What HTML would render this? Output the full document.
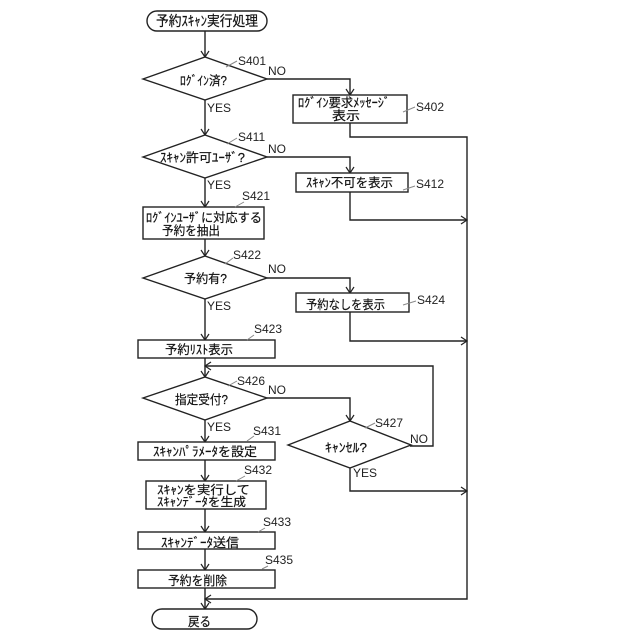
<!DOCTYPE html>
<html><head><meta charset="utf-8"><style>
html,body{margin:0;padding:0;background:#fff}
svg{display:block}
.j{font-family:"Liberation Sans","Noto Sans CJK JP",sans-serif;font-size:12.5px;fill:#111;stroke:#111;stroke-width:.2}
.l{font-family:"Liberation Sans",sans-serif;font-size:12px;fill:#222}
.s{fill:#fff;stroke:#222;stroke-width:1.4}
.c{fill:none;stroke:#222;stroke-width:1.4}
.h{fill:none;stroke:#222;stroke-width:1.2}
.q{fill:none;stroke:#888;stroke-width:1}
</style></head><body>
<svg width="640" height="640" viewBox="0 0 640 640" xmlns="http://www.w3.org/2000/svg">
<!-- connectors -->
<path class="c" d="M205 31V57M205 100V135M205 178V207M205 239V256M205 299V340M205 358V377M205 420V442M205 460V481M205 509V532M205 549V570M205 588V609"/>
<path class="c" d="M267 79H350V95M350 123V137H467V599H205M267 157H350V173M350 192V220H467M267 278H350V293M350 312V341H467M267 398H350V421M410 446H433V366H205M350 468V491H467"/>
<!-- arrowheads -->
<path class="h" d="M201 51L205 57L209 51M201 129L205 135L209 129M201 201L205 207L209 201M201 250L205 256L209 250M201 334L205 340L209 334M201 371L205 377L209 371M201 436L205 442L209 436M201 475L205 481L209 475M201 526L205 532L209 526M201 564L205 570L209 564M201 603L205 609L209 603"/>
<path class="h" d="M346 89L350 95L354 89M346 167L350 173L354 167M346 287L350 293L354 287M346 415L350 421L354 415"/>
<path class="h" d="M461 216L467 220L461 224M461 337L467 341L461 345M461 487L467 491L461 495M211 362L205 366L211 370M211 595L205 599L211 603"/>
<!-- shapes -->
<rect class="s" x="147" y="11" width="120" height="20" rx="10"/>
<polygon class="s" points="143,79 205,57 267,79 205,100"/>
<rect class="s" x="293" y="95" width="114" height="28"/>
<polygon class="s" points="143,157 205,135 267,157 205,178"/>
<rect class="s" x="296" y="173" width="112" height="19"/>
<rect class="s" x="143" y="207" width="121" height="32"/>
<polygon class="s" points="143,278 205,256 267,278 205,299"/>
<rect class="s" x="296" y="293" width="113" height="19"/>
<rect class="s" x="138" y="340" width="137" height="18"/>
<polygon class="s" points="143,398 205,377 267,398 205,420"/>
<polygon class="s" points="288,445 350,421 411,445 350,468"/>
<rect class="s" x="138" y="442" width="137" height="18"/>
<rect class="s" x="146" y="481" width="120" height="28"/>
<rect class="s" x="138" y="532" width="137" height="17"/>
<rect class="s" x="138" y="570" width="137" height="18"/>
<rect class="s" x="152" y="609" width="105" height="20" rx="10"/>
<!-- leaders -->
<path class="q" d="M226 67L237 61M403 112L415 107M227 144L237 138M403 190L415 186M235 207L244 202M225 264L233 258M403 305L416 301M247 340L254 335M228 386L237 381M365 428L375 423M247 441L254 436M236 481L245 476M258 532L265 528M262 569L268 566"/>
<!-- labels -->
<text class="j" x="156" y="26" textLength="102" lengthAdjust="spacingAndGlyphs" style="font-size:14px">予約ｽｷｬﾝ実行処理</text>
<text class="j" x="180" y="85" textLength="47" lengthAdjust="spacingAndGlyphs">ﾛｸﾞｲﾝ済?</text>
<text class="j" x="298" y="107" textLength="92" lengthAdjust="spacingAndGlyphs">ﾛｸﾞｲﾝ要求ﾒｯｾｰｼﾞ</text>
<text class="j" x="332" y="120" textLength="28" lengthAdjust="spacingAndGlyphs">表示</text>
<text class="j" x="160" y="162" textLength="85" lengthAdjust="spacingAndGlyphs">ｽｷｬﾝ許可ﾕｰｻﾞ?</text>
<text class="j" x="306" y="187" textLength="87" lengthAdjust="spacingAndGlyphs">ｽｷｬﾝ不可を表示</text>
<text class="j" x="146" y="222" textLength="116" lengthAdjust="spacingAndGlyphs">ﾛｸﾞｲﾝﾕｰｻﾞに対応する</text>
<text class="j" x="162" y="235" textLength="58" lengthAdjust="spacingAndGlyphs">予約を抽出</text>
<text class="j" x="184" y="283" textLength="43" lengthAdjust="spacingAndGlyphs">予約有?</text>
<text class="j" x="306" y="309" textLength="79" lengthAdjust="spacingAndGlyphs">予約なしを表示</text>
<text class="j" x="165" y="354" textLength="68" lengthAdjust="spacingAndGlyphs">予約ﾘｽﾄ表示</text>
<text class="j" x="175" y="404" textLength="53" lengthAdjust="spacingAndGlyphs">指定受付?</text>
<text class="j" x="325" y="452" textLength="42" lengthAdjust="spacingAndGlyphs">ｷｬﾝｾﾙ?</text>
<text class="j" x="153" y="456" textLength="104" lengthAdjust="spacingAndGlyphs">ｽｷｬﾝﾊﾟﾗﾒｰﾀを設定</text>
<text class="j" x="157" y="494" textLength="93" lengthAdjust="spacingAndGlyphs" style="font-size:12px">ｽｷｬﾝを実行して</text>
<text class="j" x="157" y="506" textLength="89" lengthAdjust="spacingAndGlyphs" style="font-size:12px">ｽｷｬﾝﾃﾞｰﾀを生成</text>
<text class="j" x="161" y="547" textLength="78" lengthAdjust="spacingAndGlyphs">ｽｷｬﾝﾃﾞｰﾀ送信</text>
<text class="j" x="168" y="585" textLength="59" lengthAdjust="spacingAndGlyphs">予約を削除</text>
<text class="j" x="188" y="626" textLength="23" lengthAdjust="spacingAndGlyphs">戻る</text>
<text class="l" x="238" y="65">S401</text>
<text class="l" x="416" y="111">S402</text>
<text class="l" x="238" y="141">S411</text>
<text class="l" x="416" y="188">S412</text>
<text class="l" x="242" y="200">S421</text>
<text class="l" x="233" y="259">S422</text>
<text class="l" x="417" y="304">S424</text>
<text class="l" x="254" y="333">S423</text>
<text class="l" x="237" y="385">S426</text>
<text class="l" x="375" y="427">S427</text>
<text class="l" x="253" y="435">S431</text>
<text class="l" x="244" y="474">S432</text>
<text class="l" x="263" y="526">S433</text>
<text class="l" x="265" y="564">S435</text>
<text class="l" x="268" y="75">NO</text>
<text class="l" x="268" y="153">NO</text>
<text class="l" x="268" y="273">NO</text>
<text class="l" x="268" y="394">NO</text>
<text class="l" x="410" y="443">NO</text>
<text class="l" x="207" y="112">YES</text>
<text class="l" x="207" y="189">YES</text>
<text class="l" x="207" y="310">YES</text>
<text class="l" x="207" y="431">YES</text>
<text class="l" x="353" y="477">YES</text>
</svg>
</body></html>
